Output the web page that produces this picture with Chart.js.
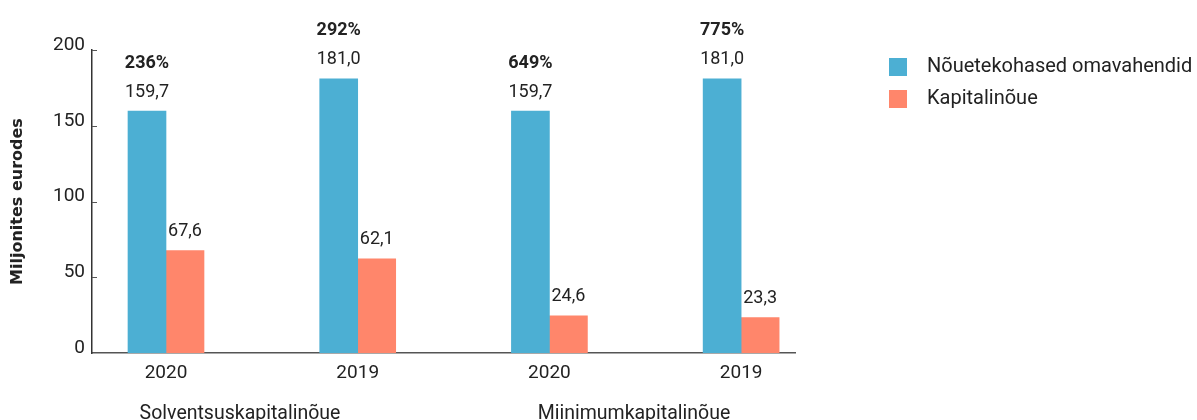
<!DOCTYPE html>
<html>
<head>
<meta charset="utf-8">
<script src="https://cdn.jsdelivr.net/npm/chart.js@4"></script>
<style>
  html, body { margin: 0; padding: 0; background: #fff; }
  #wrap { width: 1197px; height: 420px; position: relative; }
</style>
</head>
<body>
<div id="wrap"><canvas id="chart" width="1197" height="420"></canvas></div>
<script>
// chart data
const categories = ['2020', '2019', '2020', '2019'];
const groups = ['Solventsuskapitalinõue', 'Miinimumkapitalinõue'];
const ownFunds = [159.7, 181.0, 159.7, 181.0];
const requirement = [67.6, 62.1, 24.6, 23.3];
const ratios = ['236%', '292%', '649%', '775%'];
const yTicks = [0, 50, 100, 150, 200];
const seriesNames = ['Nõuetekohased omavahendid', 'Kapitalinõue'];

const FONT = 'Roboto, "Open Sans", sans-serif';
const TEXT = '#222';
const BLUE = '#4CAFD3';
const ORANGE = '#FF866B';

const fmt = v => v.toFixed(1).replace('.', ',');
const positions = categories.map((c, i) => i + 1);

// labels above bars, ratio labels, group labels, legend, y tick dashes
const extrasPlugin = {
  id: 'extras',
  afterDraw(chart) {
    const ctx = chart.ctx;
    const area = chart.chartArea;
    const xs = chart.scales.x;
    const ys = chart.scales.y;
    ctx.save();

    // small tick dashes inside the axis
    ctx.strokeStyle = '#555';
    ctx.lineWidth = 1;
    yTicks.forEach(t => {
      if (t === 0) return;
      const y = Math.round(ys.getPixelForValue(t)) + 0.5;
      ctx.beginPath();
      ctx.moveTo(area.left, y);
      ctx.lineTo(area.left + 5, y);
      ctx.stroke();
    });

    // value labels
    ctx.fillStyle = TEXT;
    ctx.textAlign = 'center';
    ctx.textBaseline = 'middle';
    ctx.font = '18px ' + FONT;
    chart.data.datasets.forEach((ds, di) => {
      chart.getDatasetMeta(di).data.forEach((bar, i) => {
        ctx.fillText(fmt(ds.data[i].y), bar.x, bar.y - 19);
      });
    });

    // ratio labels above the blue bars
    ctx.font = 'bold 18px ' + FONT;
    chart.getDatasetMeta(0).data.forEach((bar, i) => {
      ctx.fillText(ratios[i], bar.x, bar.y - 48);
    });

    // group labels under the axis
    ctx.font = '19.5px ' + FONT;
    ctx.textBaseline = 'alphabetic';
    ctx.fillText(groups[0], xs.getPixelForValue(1.386), 419);
    ctx.fillText(groups[1], xs.getPixelForValue(3.441), 419);

    // legend
    ctx.textAlign = 'left';
    ctx.textBaseline = 'middle';
    ctx.font = '20px ' + FONT;
    chart.data.datasets.forEach((ds, di) => {
      const y = 67 + di * 32;
      ctx.fillStyle = ds.backgroundColor;
      ctx.fillRect(889, y - 9, 18, 18);
      ctx.fillStyle = TEXT;
      ctx.fillText(ds.label, 927, y);
    });

    ctx.restore();
  }
};

new Chart(document.getElementById('chart'), {
  type: 'bar',
  data: {
    datasets: [
      {
        label: seriesNames[0],
        data: positions.map((p, i) => ({ x: p, y: ownFunds[i] })),
        backgroundColor: BLUE,
        barThickness: 38
      },
      {
        label: seriesNames[1],
        data: positions.map((p, i) => ({ x: p, y: requirement[i] })),
        backgroundColor: ORANGE,
        barThickness: 38
      }
    ]
  },
  options: {
    responsive: false,
    animation: false,
    layout: { padding: { left: 8, right: 402, top: 50, bottom: 0 } },
    plugins: {
      legend: { display: false },
      tooltip: { enabled: false }
    },
    scales: {
      x: {
        type: 'linear',
        offset: false,
        min: 0.614,
        max: 4.281,
        afterBuildTicks: axis => { axis.ticks = positions.map(v => ({ value: v })); },
        afterFit: scale => { scale.height = 67; },
        grid: { display: false, drawTicks: false, tickLength: 0 },
        border: { display: true, color: '#555', width: 1.5 },
        ticks: {
          color: TEXT,
          font: { family: FONT, size: 19 },
          padding: 9,
          maxRotation: 0,
          callback: (v) => categories[Math.round(v) - 1] || ''
        }
      },
      y: {
        min: 0,
        max: 200,
        afterBuildTicks: axis => { axis.ticks = yTicks.map(v => ({ value: v })); },
        afterFit: scale => { scale.width = 84; },
        grid: { display: false, drawTicks: false, tickLength: 0 },
        border: { display: true, color: '#333', width: 1.5 },
        title: {
          display: true,
          text: 'Miljonites eurodes',
          color: TEXT,
          font: { family: '"DejaVu Sans", sans-serif', size: 16, weight: 'bold' },
          padding: { top: 0, bottom: 0 }
        },
        ticks: {
          color: TEXT,
          font: { family: FONT, size: 19 },
          padding: 7,
          labelOffset: -5
        }
      }
    }
  },
  plugins: [extrasPlugin]
});
</script>
</body>
</html>
